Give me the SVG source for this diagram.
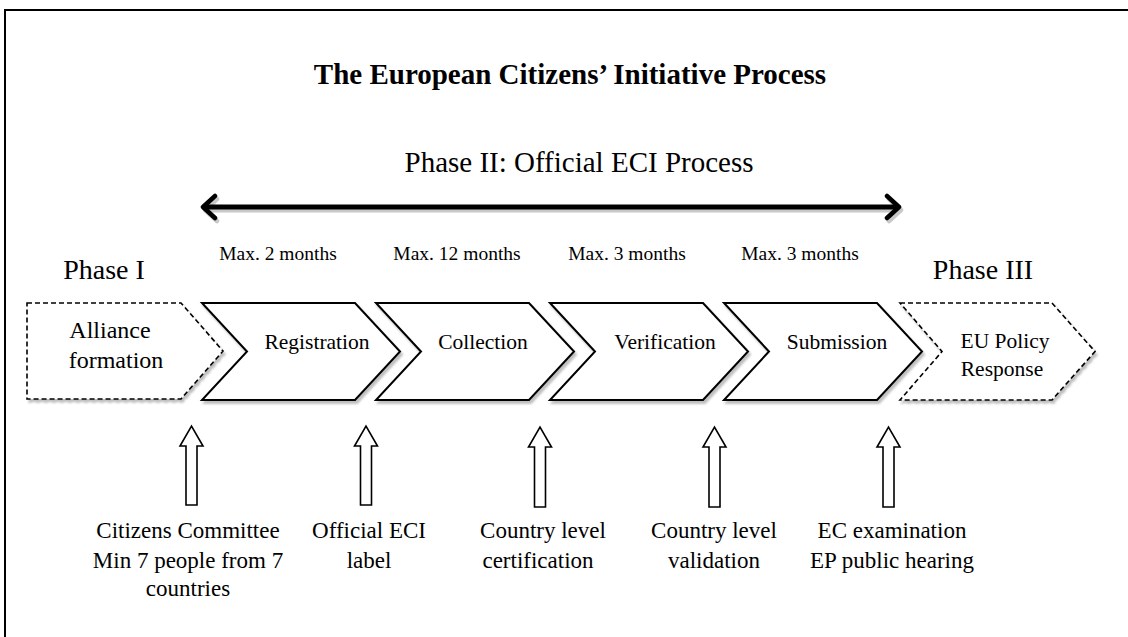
<svg xmlns="http://www.w3.org/2000/svg" width="1128" height="637" viewBox="0 0 1128 637">
  <defs>
    <filter id="sh" x="-10%" y="-10%" width="130%" height="140%">
      <feDropShadow dx="2" dy="3" stdDeviation="1.2" flood-color="#000" flood-opacity="0.25"/>
    </filter>
    <marker id="open" viewBox="0 0 20 30" refX="17" refY="15" markerWidth="20" markerHeight="30" markerUnits="userSpaceOnUse" orient="auto-start-reverse">
      <path d="M5,4 L17,15 L5,26" fill="none" stroke="#000" stroke-width="4.5" stroke-linecap="round" stroke-linejoin="round"/>
    </marker>
    <marker id="openShadow" viewBox="0 0 20 30" refX="17" refY="15" markerWidth="20" markerHeight="30" markerUnits="userSpaceOnUse" orient="auto-start-reverse">
      <path d="M5,4 L17,15 L5,26" fill="none" stroke="#c8c8c8" stroke-width="4.5" stroke-linecap="round" stroke-linejoin="round"/>
    </marker>
  </defs>
  <style>
    text { font-family: "Liberation Serif", "Times New Roman", serif; fill: #000; }
    .title { font-size: 29px; font-weight: bold; }
    .phase { font-size: 28px; }
    .ph2 { font-size: 29px; }
    .max { font-size: 19.5px; }
    .step { font-size: 21.5px; }
    .af { font-size: 24px; }
    .note { font-size: 23px; }
    .chev { fill: #fff; stroke: #000; stroke-width: 2; stroke-linejoin: miter; filter: url(#sh); }
    .dash { fill: #fff; stroke: #000; stroke-width: 1.6; stroke-dasharray: 5 3; filter: url(#sh); }
    .up { fill: #fff; stroke: #000; stroke-width: 1.6; stroke-linejoin: miter; }
  </style>
  <rect width="1128" height="637" fill="#fff"/>
  <path d="M5,637 V10 H1128" fill="none" stroke="#000" stroke-width="2"/>

  <text class="title" x="570" y="84" text-anchor="middle">The European Citizens’ Initiative Process</text>
  <text class="ph2" x="579" y="172" text-anchor="middle">Phase II: Official ECI Process</text>

  <g id="connectors">
    <path d="M205,210 H901" fill="none" stroke="#c8c8c8" stroke-width="5" marker-start="url(#openShadow)" marker-end="url(#openShadow)"/>
    <path d="M203,207 H899" fill="none" stroke="#000" stroke-width="5" marker-start="url(#open)" marker-end="url(#open)"/>
    <polygon class="up" points="186,505 197,505 197,446 203,446 191.5,426 180,446 186,446"/>
    <polygon class="up" points="360.5,505 371.5,505 371.5,446 377.5,446 366,426 354.5,446 360.5,446"/>
    <polygon class="up" points="534.5,507 545.5,507 545.5,447 551.5,447 540,427 528.5,447 534.5,447"/>
    <polygon class="up" points="709,507 720,507 720,447 726,447 714.5,427 703,447 709,447"/>
    <polygon class="up" points="883,507 894,507 894,447 900,447 888.5,427 877,447 883,447"/>
  </g>

  <g id="phase1">
    <text class="phase" x="104" y="279" text-anchor="middle">Phase I</text>
  </g>
  <g id="phase3">
    <text class="phase" x="983" y="279" text-anchor="middle">Phase III</text>
  </g>

  <g id="max-labels">
    <text class="max" x="278" y="260" text-anchor="middle">Max. 2 months</text>
    <text class="max" x="457" y="260" text-anchor="middle">Max. 12 months</text>
    <text class="max" x="627" y="260" text-anchor="middle">Max. 3 months</text>
    <text class="max" x="800" y="260" text-anchor="middle">Max. 3 months</text>
  </g>

  <g id="alliance">
    <polygon class="dash" points="27,303 181,303 223,351 181,399 27,399"/>
    <text class="af" x="110" y="338" text-anchor="middle">Alliance</text>
    <text class="af" x="116" y="368" text-anchor="middle">formation</text>
  </g>
  <g id="registration">
    <polygon class="chev" points="202,303 355,303 400,351.5 355,400 202,400 247,351.5"/>
    <text class="step" x="317" y="349" text-anchor="middle">Registration</text>
  </g>
  <g id="collection">
    <polygon class="chev" points="376,303 529,303 574,351.5 529,400 376,400 421,351.5"/>
    <text class="step" x="483" y="349" text-anchor="middle">Collection</text>
  </g>
  <g id="verification">
    <polygon class="chev" points="550,303 703,303 748,351.5 703,400 550,400 595,351.5"/>
    <text class="step" x="665" y="349" text-anchor="middle">Verification</text>
  </g>
  <g id="submission">
    <polygon class="chev" points="724,303 877,303 922,351.5 877,400 724,400 769,351.5"/>
    <text class="step" x="837" y="349" text-anchor="middle">Submission</text>
  </g>
  <g id="eu-policy">
    <polygon class="dash" points="900,303 1052,303 1095,351.5 1052,400 900,400 942,351.5"/>
    <text class="step" x="1005" y="348" text-anchor="middle">EU Policy</text>
    <text class="step" x="1002" y="376" text-anchor="middle">Response</text>
  </g>

  <g id="note1">
    <text class="note" x="188" y="538" text-anchor="middle">Citizens Committee</text>
    <text class="note" x="188" y="568" text-anchor="middle">Min 7 people from 7</text>
    <text class="note" x="188" y="596" text-anchor="middle">countries</text>
  </g>
  <g id="note2">
    <text class="note" x="369" y="538" text-anchor="middle">Official ECI</text>
    <text class="note" x="369" y="568" text-anchor="middle">label</text>
  </g>
  <g id="note3">
    <text class="note" x="543" y="538" text-anchor="middle">Country level</text>
    <text class="note" x="538" y="568" text-anchor="middle">certification</text>
  </g>
  <g id="note4">
    <text class="note" x="714" y="538" text-anchor="middle">Country level</text>
    <text class="note" x="714" y="568" text-anchor="middle">validation</text>
  </g>
  <g id="note5">
    <text class="note" x="892" y="538" text-anchor="middle">EC examination</text>
    <text class="note" x="892" y="568" text-anchor="middle">EP public hearing</text>
  </g>
</svg>
